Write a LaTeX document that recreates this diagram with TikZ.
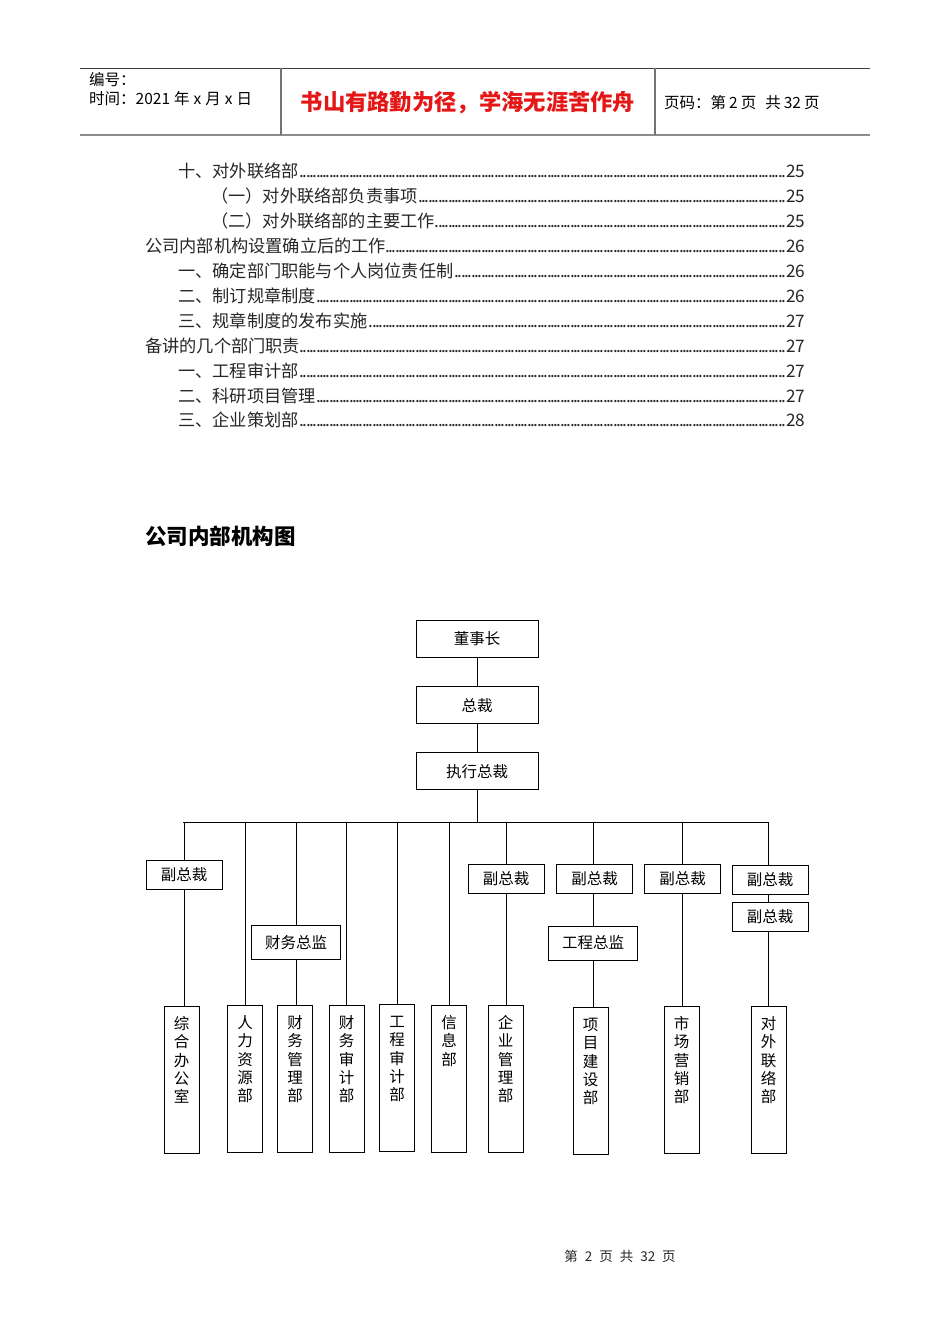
\documentclass[tikz,border=0pt]{standalone}
\usepackage{fontspec}
\setmainfont{Noto Sans CJK SC}
\usetikzlibrary{positioning}
\definecolor{mottored}{RGB}{228,22,22}
\newcommand{\tocdots}[3]{\makebox[#1][l]{#2\leaders\hbox to 3.3pt{\hss.\hss}\hfill#3}}
\newcommand{\vtext}[1]{\parbox[c][147pt][t]{35pt}{\centering\fontsize{15.5}{18.3}\selectfont\rule{0pt}{23pt}#1}}

\begin{document}
\begin{tikzpicture}[x=1pt, y=-1pt,
  head/.style={anchor=west, inner sep=0pt, font=\fontsize{15.5}{18}\selectfont},
  motto/.style={inner sep=0pt, text=mottored, font=\bfseries\fontsize{22.3}{24}\selectfont},
  toc/.style={anchor=west, inner sep=0pt, text=black!85, font=\fontsize{17.2}{20}\selectfont},
  box/.style={draw, line width=0.9pt, minimum width=122pt, minimum height=37pt, inner sep=0pt, font=\fontsize{15.5}{18}\selectfont},
  vpbox/.style={box, minimum width=76pt, minimum height=29pt},
  chief/.style={box, minimum width=89pt, minimum height=34pt},
  dept/.style={draw, line width=0.9pt, anchor=north, inner sep=0pt},
  link/.style={line width=0.8pt}]
  \useasboundingbox (0,0) rectangle (950,1344);
  % 页眉
  \draw[black!75, line width=0.8pt] (80,68) -- (870,68);
  \draw[black!45, line width=2pt] (80,135) -- (870,135);
  \draw[black!55, line width=1.3pt] (281,68) -- (281,135);
  \draw[black!55, line width=1.3pt] (655,68) -- (655,135);
  \node[head] (code) at (89,80) {编号：};
  \node[head] (date) at (89,99) {时间：2021\hspace{4pt}年\hspace{4pt}x\hspace{4pt}月\hspace{4pt}x\hspace{4pt}日};
  \node[motto] (motto) at (468,103) {书山有路勤为径，学海无涯苦作舟};
  \node[head] (pageno) at (664,103) {页码：第\hspace{3pt}2\hspace{3pt}页\hspace{9pt}共\hspace{3pt}32\hspace{3pt}页};
  % 目录
  \node[toc] (t1) at (178,171) {\tocdots{627pt}{十、对外联络部}{25}};
  \node[toc] (t2) at (211,196) {\tocdots{594pt}{（一）对外联络部负责事项}{25}};
  \node[toc] (t3) at (211,221) {\tocdots{594pt}{（二）对外联络部的主要工作}{25}};
  \node[toc] (t4) at (145,246) {\tocdots{660pt}{公司内部机构设置确立后的工作}{26}};
  \node[toc] (t5) at (178,271) {\tocdots{627pt}{一、确定部门职能与个人岗位责任制}{26}};
  \node[toc] (t6) at (178,296) {\tocdots{627pt}{二、制订规章制度}{26}};
  \node[toc] (t7) at (178,321) {\tocdots{627pt}{三、规章制度的发布实施}{27}};
  \node[toc] (t8) at (145,346) {\tocdots{660pt}{备讲的几个部门职责}{27}};
  \node[toc] (t9) at (178,371) {\tocdots{627pt}{一、工程审计部}{27}};
  \node[toc] (t10) at (178,396) {\tocdots{627pt}{二、科研项目管理}{27}};
  \node[toc] (t11) at (178,420) {\tocdots{627pt}{三、企业策划部}{28}};
  % 标题
  \node[anchor=west, inner sep=0pt, font=\bfseries\fontsize{21.5}{24}\selectfont] (title) at (145,536) {公司内部机构图};
  % 决策层
  \node[box] (chair) at (477,638.5) {董事长};
  \node[box, below=29pt of chair] (pres) {总裁};
  \node[box, below=28pt of pres] (exec) {执行总裁};
  \coordinate (busL) at (183,822);
  \coordinate (busR) at (768,822);
  % 副总裁与总监
  \node[vpbox] (vpA) at (184,875) {副总裁};
  \node[chief] (cfo) at (296,942.5) {财务总监};
  \node[vpbox] (vpB) at (506,878.5) {副总裁};
  \node[vpbox] (vpC) at (594.5,878.5) {副总裁};
  \node[chief] (cto) at (593,943) {工程总监};
  \node[vpbox] (vpD) at (682.5,878.5) {副总裁};
  \node[vpbox] (vpE) at (770,879.5) {副总裁};
  \node[vpbox] (vpF) at (770,916.5) {副总裁};
  % 部门
  \node[dept] (office) at (181.5,1006) {\vtext{综\\合\\办\\公\\室}};
  \node[dept] (hr) at (245,1005) {\vtext{人\\力\\资\\源\\部}};
  \node[dept] (fin) at (295,1005) {\vtext{财\\务\\管\\理\\部}};
  \node[dept] (audit) at (346.5,1005) {\vtext{财\\务\\审\\计\\部}};
  \node[dept] (eaudit) at (397,1004) {\vtext{工\\程\\审\\计\\部}};
  \node[dept] (info) at (449,1005) {\vtext{信\\息\\部}};
  \node[dept] (mgmt) at (505.5,1005) {\vtext{企\\业\\管\\理\\部}};
  \node[dept] (proj) at (590.5,1007) {\vtext{项\\目\\建\\设\\部}};
  \node[dept] (mkt) at (681.5,1006) {\vtext{市\\场\\营\\销\\部}};
  \node[dept] (ext) at (768.5,1006) {\vtext{对\\外\\联\\络\\部}};
  % 连线
  \draw[link] (chair) -- (pres);
  \draw[link] (pres) -- (exec);
  \draw[link] (exec.south) -- (exec.south |- busL);
  \draw[link] (busL) -- (busR);
  \draw[link] (vpA.north) -- (vpA.north |- busL);
  \draw[link] (vpA.south) -- (vpA.south |- office.north);
  \draw[link] (hr.north) -- (hr.north |- busL);
  \draw[link] (cfo.north) -- (cfo.north |- busL);
  \draw[link] (cfo.south) -- (cfo.south |- fin.north);
  \draw[link] (audit.north) -- (audit.north |- busL);
  \draw[link] (eaudit.north) -- (eaudit.north |- busL);
  \draw[link] (info.north) -- (info.north |- busL);
  \draw[link] (vpB.north) -- (vpB.north |- busL);
  \draw[link] (vpB.south) -- (vpB.south |- mgmt.north);
  \draw[link] (cto.north |- vpC.north) -- (cto.north |- busL);
  \draw[link] (cto.north |- vpC.south) -- (cto.north);
  \draw[link] (cto.south) -- (cto.south |- proj.north);
  \draw[link] (vpD.north) -- (vpD.north |- busL);
  \draw[link] (vpD.south) -- (vpD.south |- mkt.north);
  \draw[link] (busR) -- (busR |- vpE.north);
  \draw[link] (busR |- vpE.south) -- (busR |- vpF.north);
  \draw[link] (busR |- vpF.south) -- (busR |- ext.north);
  % 页脚
  \node[inner sep=0pt, text=black!85, font=\fontsize{13.5}{16}\selectfont] (foot) at (620,1256) {第\hspace{7pt}2\hspace{7pt}页\hspace{7pt}共\hspace{7pt}32\hspace{7pt}页};
\end{tikzpicture}
\end{document}
